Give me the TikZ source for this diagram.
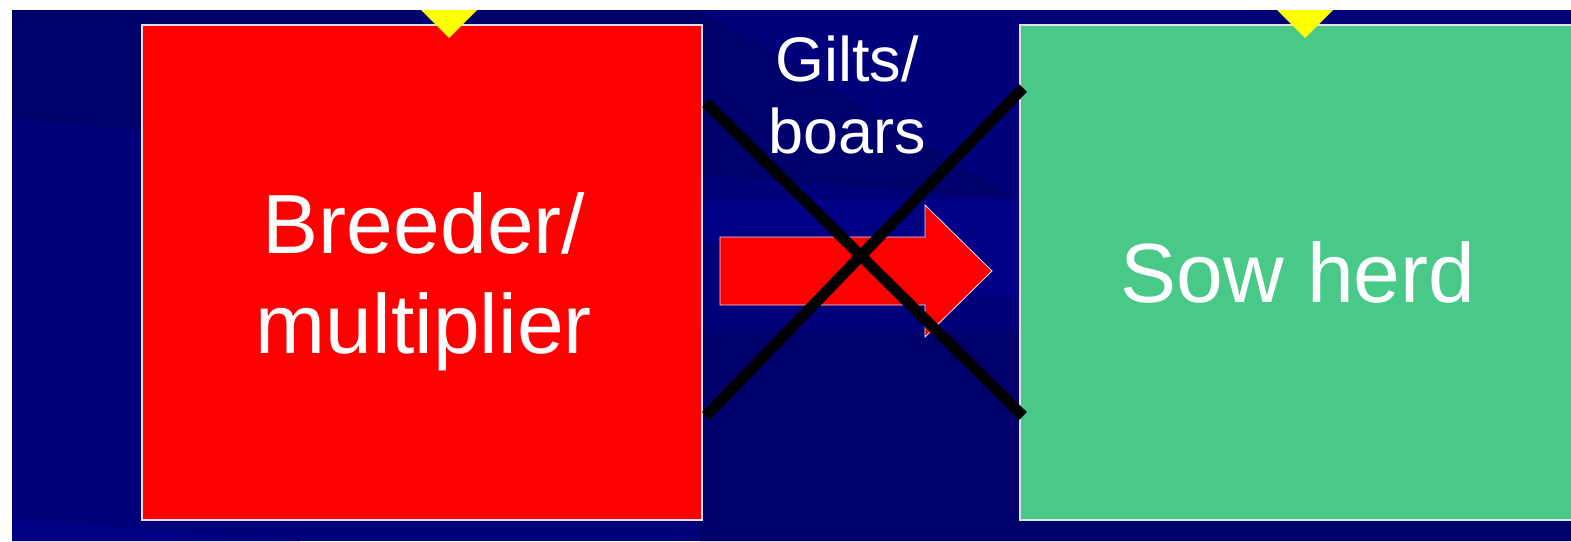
\documentclass[tikz,border=0pt]{standalone}
\usepackage{fontspec}
\setmainfont{Liberation Sans}
\definecolor{navy}{RGB}{0,0,122}
\definecolor{navydark}{RGB}{0,0,108}
\definecolor{navylight}{RGB}{0,0,134}
\definecolor{boxred}{RGB}{255,0,0}
\definecolor{boxgreen}{RGB}{72,201,135}
\definecolor{tri}{RGB}{255,255,0}
\definecolor{edge}{RGB}{225,225,235}
\tikzset{
  box/.style={draw=edge, line width=1.3pt, minimum width=560, minimum height=495, inner sep=0pt},
  bigtext/.style={font=\fontsize{84}{100}\selectfont, text=white, align=center, inner sep=0pt},
  labeltext/.style={font=\fontsize{63}{72}\selectfont, text=white, align=center, inner sep=0pt},
  cross/.style={line width=11pt, black},
  pointer/.style={tri},
  arrowbody/.style={fill=boxred, draw=edge, line width=0.8pt}
}
\begin{document}
\begin{tikzpicture}[x=1pt,y=-1pt]
\useasboundingbox (0,0) rectangle (1571,541);
\fill[white] (0,0) rectangle (1571,541);
\begin{scope}
\clip (12,10) rectangle (1571,541);
\fill[navy] (12,10) rectangle (1571,541);
\fill[navydark] (12,10) -- (700,10) -- (1020,200) -- (12,120) -- cycle;
\fill[navylight] (700,200) -- (1020,200) -- (1571,330) -- (1571,420) -- (1020,300) -- (700,240) -- cycle;
\fill[navydark] (700,330) -- (1020,330) -- (1571,440) -- (1571,541) -- (700,541) -- cycle;
\fill[navylight] (12,520) -- (300,541) -- (12,541) -- cycle;
\end{scope}
\begin{scope}
\clip (0,0) rectangle (1571,541);
\node[box, fill=boxred] (breeder) at (422,272.5) {};
\node[box, fill=boxgreen] (sow) at (1300,272.5) {};
\end{scope}
\node[bigtext] (breederlbl) at ([yshift=-9pt,xshift=2pt]breeder.center) {Breeder/\\multiplier};
\node[bigtext] (sowlbl) at ([xshift=-2pt]sow.center) {Sow herd};
\fill[pointer] (421,10) -- (477,10) -- (449,38) -- cycle;
\fill[pointer] (1277,10) -- (1333,10) -- (1305,38) -- cycle;
\node[labeltext] (gilts) at (847,95) {Gilts/\\boars};
\draw[arrowbody] (720,237) -- (925,237) -- (925,205) -- (992,271) -- (925,337) -- (925,305) -- (720,305) -- cycle;
\coordinate (a1) at (706,103);
\coordinate (a2) at (1023,416);
\coordinate (b1) at (706,416);
\coordinate (b2) at (1023,88);
\draw[cross] (a1) -- (a2);
\draw[cross] (b1) -- (b2);
\end{tikzpicture}
\end{document}
